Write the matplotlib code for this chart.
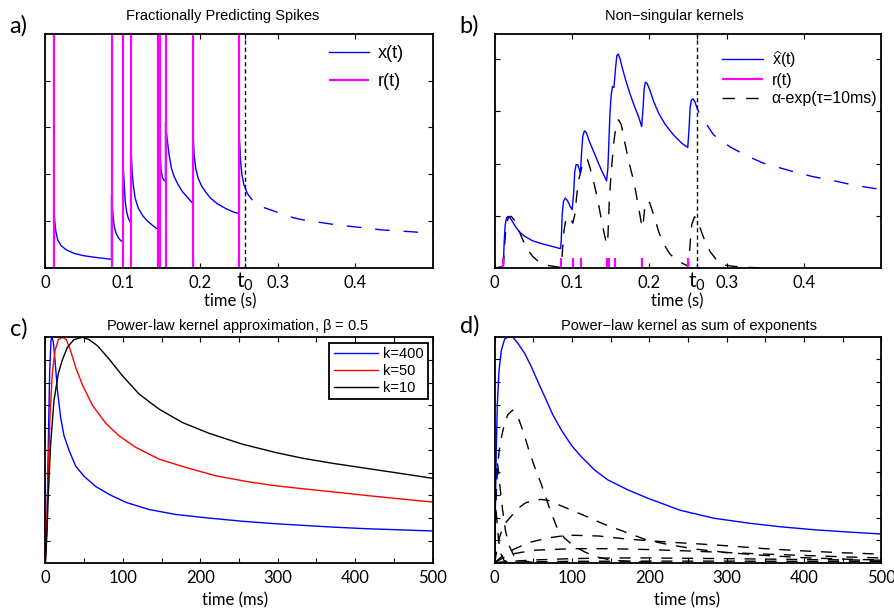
import matplotlib
matplotlib.use("Agg")
import matplotlib.pyplot as plt

plt.rcParams['font.family'] = ['Liberation Sans', 'DejaVu Sans']
plt.rcParams['mathtext.default'] = 'regular'
plt.rcParams['lines.scale_dashes'] = False

# ---------------- data ----------------
# spike train shared by panels a and b (seconds)
spikes = [0.0112, 0.0857, 0.1009, 0.1110, 0.1457, 0.1481, 0.1553, 0.1907, 0.2505]
t0_a = 0.258
t0_b = 0.262

# a) x(t), solid part up to t0
xa_t = [0.0, 0.0112, 0.0112, 0.0130, 0.0143, 0.0164, 0.0207, 0.0271, 0.0378, 0.0507, 0.0636, 0.0857,
        0.0857, 0.0875, 0.0892, 0.0914, 0.0944, 0.0978, 0.1009,
        0.1009, 0.1021, 0.1034, 0.1051, 0.1072, 0.1098, 0.1110,
        0.1110, 0.1120, 0.1137, 0.1162, 0.1201, 0.1257, 0.1321, 0.1385, 0.1441, 0.1457,
        0.1457, 0.1465, 0.1475, 0.1481,
        0.1481, 0.1495, 0.1515, 0.1535, 0.1553,
        0.1553, 0.1561, 0.1578, 0.1599, 0.1629, 0.1664, 0.1715, 0.1771, 0.1835, 0.1899, 0.1907,
        0.1907, 0.1921, 0.1942, 0.1972, 0.2015, 0.2071, 0.2135, 0.2221, 0.2328, 0.2435, 0.2505,
        0.2505, 0.2521, 0.2538, 0.2563, 0.2607, 0.2667]
xa_v = [0, 0, 1.28, 0.92, 0.75, 0.60, 0.48, 0.39, 0.31, 0.26, 0.23, 0.185,
        1.55, 1.14, 0.89, 0.75, 0.65, 0.58, 0.56,
        2.13, 1.78, 1.42, 1.21, 1.07, 0.98, 0.96,
        2.52, 2.13, 1.78, 1.49, 1.28, 1.12, 1.00, 0.91, 0.84, 0.82,
        2.42, 1.95, 1.75, 1.70,
        2.50, 2.10, 1.92, 1.87, 1.85,
        3.10, 2.95, 2.70, 2.42, 2.13, 1.95, 1.78, 1.63, 1.51, 1.39, 1.37,
        2.91, 2.42, 2.13, 1.92, 1.76, 1.62, 1.49, 1.37, 1.27, 1.19, 1.16,
        2.74, 2.27, 1.99, 1.78, 1.59, 1.46]
# a) prediction after t0
pa_t = [0.282, 0.301, 0.3206, 0.3378, 0.357, 0.376, 0.398, 0.417, 0.436, 0.458, 0.492, 0.5]
pa_v = [1.29, 1.18, 1.07, 1.01, 0.967, 0.92, 0.88, 0.845, 0.81, 0.79, 0.75, 0.74]

# b) x-hat(t)
xb_t = [0.0, 0.0111, 0.0123, 0.0136, 0.0153, 0.0171, 0.0192, 0.0222, 0.0265, 0.0320, 0.0385, 0.0492, 0.0599, 0.0728, 0.0852,
        0.0860, 0.0873, 0.0890, 0.0912, 0.0942, 0.0976, 0.1002,
        0.1019, 0.1036, 0.1053, 0.1075, 0.1096, 0.1109,
        0.1122, 0.1139, 0.1160, 0.1186, 0.1220, 0.1263, 0.1319, 0.1379, 0.1447,
        0.1464, 0.1477, 0.1490, 0.1507, 0.1524, 0.1542,
        0.1563, 0.1580, 0.1597, 0.1619, 0.1649, 0.1692, 0.1747, 0.1807, 0.1863, 0.1901,
        0.1919, 0.1932, 0.1949, 0.1970, 0.2004, 0.2056, 0.2120, 0.2206, 0.2313, 0.2420, 0.2497,
        0.2514, 0.2527, 0.2544, 0.2566, 0.2591, 0.2613, 0.2638]
xb_v = [0, 0.03, 0.51, 0.83, 0.96, 0.99, 0.97, 0.91, 0.80, 0.69, 0.61, 0.52, 0.47, 0.42, 0.37,
        0.51, 1.02, 1.28, 1.34, 1.29, 1.18, 1.12,
        1.40, 1.85, 1.98, 1.98, 1.88, 1.82,
        2.17, 2.52, 2.63, 2.59, 2.44, 2.29, 2.09, 1.88, 1.67,
        1.92, 2.43, 2.94, 3.32, 3.48, 3.46,
        3.83, 4.07, 4.10, 4.02, 3.84, 3.61, 3.35, 3.10, 2.89, 2.71,
        3.07, 3.42, 3.56, 3.54, 3.42, 3.19, 2.97, 2.75, 2.55, 2.39, 2.31,
        2.68, 3.07, 3.22, 3.24, 3.18, 3.08, 2.99]
pb_t = [0.2746, 0.2832, 0.3045, 0.3260, 0.3474, 0.3688, 0.3902, 0.4117, 0.4331, 0.4545, 0.4760, 0.4973, 0.5]
pb_v = [2.74, 2.55, 2.32, 2.15, 2.01, 1.92, 1.83, 1.75, 1.69, 1.62, 1.56, 1.51, 1.50]
# b) alpha-exp filtered spikes
ab_t = [0.0111, 0.0128, 0.0149, 0.0179, 0.0213, 0.0248, 0.0299, 0.0363, 0.0428, 0.0492, 0.0578, 0.0685, 0.0813, 0.0856,
        0.0873, 0.0895, 0.0920, 0.0955, 0.0985, 0.1010,
        0.1036, 0.1062, 0.1087, 0.1113, 0.1139, 0.1169, 0.1199, 0.1233, 0.1284, 0.1336, 0.1392, 0.1434, 0.1460,
        0.1482, 0.1507, 0.1542, 0.1572, 0.1602, 0.1636, 0.1679, 0.1734, 0.1799, 0.1863, 0.1906,
        0.1919, 0.1940, 0.1970, 0.2004, 0.2056, 0.2120, 0.2184, 0.2270, 0.2377, 0.2506,
        0.2527, 0.2548, 0.2583, 0.2613, 0.2656, 0.2720, 0.2784, 0.2870, 0.2955, 0.31, 0.33, 0.35]
ab_v = [0, 0.45, 0.83, 0.98, 0.99, 0.93, 0.77, 0.54, 0.35, 0.22, 0.11, 0.05, 0.02, 0.01,
        0.26, 0.70, 0.93, 0.99, 0.95, 0.86,
        1.02, 1.40, 1.69, 1.85, 2.01, 2.09, 2.08, 1.92, 1.63, 1.28, 0.83, 0.54, 0.45,
        1.28, 1.85, 2.43, 2.75, 2.84, 2.75, 2.43, 2.04, 1.66, 1.15, 0.77,
        0.83, 1.15, 1.29, 1.25, 1.02, 0.70, 0.46, 0.26, 0.13, 0.03,
        0.45, 0.83, 0.98, 0.96, 0.77, 0.51, 0.32, 0.15, 0.06, 0.03, 0.01, 0.0]

# c) normalised kernels (ms)
k400_t = [0, 2.15, 3.9, 5.6, 7.3, 8.6, 10.3, 12.5, 15.5, 19.8, 24.1, 30.6, 39.2, 50.0, 65.0, 82.3, 103.8,
          133.9, 168.4, 211.5, 254.5, 297.6, 332, 371.6, 414.7, 457.8, 500]
k400_v = [0, 0.19, 0.53, 0.84, 0.985, 1.0, 0.98, 0.90, 0.77, 0.645, 0.565, 0.50, 0.43, 0.385, 0.34, 0.305, 0.27,
          0.238, 0.216, 0.200, 0.186, 0.175, 0.168, 0.160, 0.153, 0.148, 0.143]
k50_t = [0, 2.15, 3.9, 6.0, 9.0, 12.5, 16.8, 22.0, 27.1, 32.7, 39.2, 47.8, 60.7, 77.9, 95.2, 116.7,
         146.9, 181.3, 220.1, 263.1, 297.6, 332, 371.6, 414.7, 457.8, 500]
k50_v = [0, 0.20, 0.42, 0.645, 0.84, 0.94, 0.99, 1.0, 0.99, 0.94, 0.867, 0.79, 0.70, 0.62, 0.564, 0.513,
         0.461, 0.424, 0.387, 0.360, 0.343, 0.330, 0.316, 0.300, 0.285, 0.271]
k10_t = [0, 2.15, 3.9, 6.9, 11.2, 16.8, 22.0, 28.4, 37.0, 47.8, 56.4, 67.2, 82.3, 99.5, 121.0, 146.9,
         177.0, 211.5, 254.5, 297.6, 332, 371.6, 414.7, 457.8, 500]
k10_v = [0, 0.13, 0.306, 0.527, 0.72, 0.84, 0.90, 0.955, 0.99, 1.0, 0.99, 0.963, 0.904, 0.83, 0.749, 0.682,
         0.623, 0.575, 0.527, 0.49, 0.465, 0.442, 0.42, 0.398, 0.376]

# d) kernel (blue) and its exponential components (dashed)
dk_t = [0, 0.8, 2.1, 3.4, 5.6, 8.6, 12.9, 18.1, 23.7, 30.1, 38.8, 47.4, 56.0, 64.6, 75.4, 86.2, 99.1, 112.0,
        129.3, 146.5, 172.4, 198.2, 240, 283.2, 326.3, 369.4, 412.5, 455.6, 500]
dk_v = [0, 0.22, 0.51, 0.70, 0.85, 0.94, 0.99, 1.0, 0.997, 0.97, 0.926, 0.867, 0.80, 0.735, 0.653, 0.587, 0.52, 0.469,
        0.41, 0.366, 0.322, 0.285, 0.232, 0.197, 0.176, 0.159, 0.146, 0.136, 0.127]
comp_t = [
    [0, 0.7, 1.5, 3, 5, 8, 12, 20],
    [0, 1, 2.5, 4, 7, 10, 14, 18, 25, 35, 50],
    [0, 1, 2, 3.5, 6, 9, 13, 17, 23, 30, 37, 44, 52, 60, 70, 80, 90, 100, 115, 130, 150, 180, 220],
    [0, 3, 6, 10, 15, 20, 30, 40, 50, 60, 70, 87, 115, 141, 171, 197, 225, 260, 300, 350, 400, 450, 500],
    [0, 10, 25, 45, 70, 95, 135, 170, 200, 230, 260, 300, 350, 400, 450, 500],
    [0, 10, 25, 50, 100, 150, 200, 250, 300, 350, 400, 450, 500],
    [0, 20, 50, 100, 150, 200, 300, 400, 500],
    [0, 50, 100, 200, 300, 400, 500],
]
comp_v = [
    [0, 0.2, 0.25, 0.18, 0.1, 0.04, 0.01, 0],
    [0, 0.3, 0.45, 0.43, 0.33, 0.24, 0.14, 0.08, 0.03, 0.01, 0],
    [0, 0.15, 0.3, 0.42, 0.5, 0.56, 0.62, 0.655, 0.675, 0.645, 0.58, 0.5, 0.42, 0.35, 0.25, 0.16, 0.11, 0.08,
     0.05, 0.027, 0.012, 0.004, 0],
    [0, 0.06, 0.11, 0.15, 0.18, 0.2, 0.24, 0.265, 0.275, 0.28, 0.275, 0.25, 0.21, 0.171, 0.133, 0.10, 0.08,
     0.06, 0.045, 0.032, 0.022, 0.016, 0.012],
    [0, 0.03, 0.06, 0.09, 0.11, 0.122, 0.118, 0.105, 0.097, 0.09, 0.084, 0.075, 0.062, 0.052, 0.044, 0.038],
    [0, 0.02, 0.04, 0.055, 0.062, 0.062, 0.058, 0.052, 0.045, 0.038, 0.032, 0.026, 0.021],
    [0, 0.006, 0.012, 0.018, 0.021, 0.021, 0.018, 0.014, 0.011],
    [0, 0.004, 0.006, 0.007, 0.007, 0.006, 0.006],
]

sec_ticks = [0, 0.1, 0.2, 0.3, 0.4]
sec_labels = ['0', '0.1', '0.2', '', '0.3', '0.4']
ms_ticks = [0, 50, 100, 150, 200, 250, 300, 350, 400, 450, 500]

# ---------------- figure ----------------
W, H = 894, 608
fig = plt.figure(figsize=(W / 100, H / 100), dpi=100)

def box(l, t, r, b):
    return [l / W, 1 - b / H, (r - l) / W, (b - t) / H]

axa = fig.add_axes(box(45, 33.7, 433, 268))
axb = fig.add_axes(box(494.7, 33.7, 881.3, 268))
axc = fig.add_axes(box(45.3, 337.3, 432.7, 563.3))
axd = fig.add_axes(box(494.7, 336.7, 881.3, 562.7))

humanist = ['Lato', 'DejaVu Sans']

def style(ax):
    for s in ax.spines.values():
        s.set_linewidth(1.3)
    ax.tick_params(direction='in', length=3.5, width=0.8, top=True, right=True, pad=5,
                   labelleft=False)
    for lab in ax.get_xticklabels():
        lab.set_fontfamily(humanist)
        lab.set_fontsize(12)

blue = '#0000ff'
mag = '#ff00ff'
long_dash = (0, (10.5, 10))

# a)
axa.plot(xa_t, xa_v, color=blue, lw=1.0, label='x(t)')
axa.plot(pa_t, pa_v, color=blue, lw=1.0, linestyle=long_dash)
axa.vlines(spikes, 0, 5, color=mag, lw=1.6, label='r(t)')
axa.axvline(t0_a, color='black', lw=1.0, linestyle=(0, (3, 2.2)))
axa.set_xlim(0, 0.5)
axa.set_ylim(0, 5)
axa.set_yticks([1, 2, 3, 4])
axa.set_xticks(sec_ticks[:3] + [t0_a] + sec_ticks[3:])
axa.set_xticklabels(sec_labels)
style(axa)
axa.legend(loc='upper left', bbox_to_anchor=(0.69, 1.02), frameon=False, fontsize=13,
           handlelength=2.2, handletextpad=0.5, labelspacing=0.6)

# b)
axb.plot(ab_t, ab_v, color='black', lw=1.0, linestyle=(0, (9, 8)), label=r'α-exp(τ=10ms)')
axb.plot(xb_t, xb_v, color=blue, lw=1.0, label=r'$\widehat{x}$(t)')
axb.plot(pb_t, pb_v, color=blue, lw=1.0, linestyle=long_dash)
axb.vlines(spikes, 0, 0.19, color=mag, lw=1.6, label='r(t)')
axb.axvline(t0_b, color='black', lw=1.0, linestyle=(0, (3, 2.2)))
axb.set_xlim(0, 0.5)
axb.set_ylim(0, 4.49)
axb.set_yticks([1, 2, 3, 4])
axb.set_xticks(sec_ticks[:3] + [t0_b] + sec_ticks[3:])
axb.set_xticklabels(sec_labels)
style(axb)
h, l = axb.get_legend_handles_labels()
axb.legend([h[1], h[2], h[0]], [l[1], l[2], l[0]], loc='upper left', bbox_to_anchor=(0.55, 0.997),
           frameon=False, fontsize=11.5, handlelength=2.57, handletextpad=0.55, labelspacing=0.2)

# t0 tick labels, drawn larger than the other tick labels
for ax, t0 in ((axa, t0_a), (axb, t0_b)):
    ax.text(t0, -0.01, r'$t_0$', transform=ax.get_xaxis_transform(), ha='center', va='top',
            fontsize=15, family=humanist)

# c)
axc.plot(k400_t, k400_v, color=blue, lw=1.0, label='k=400')
axc.plot(k50_t, k50_v, color='red', lw=1.0, label='k=50')
axc.plot(k10_t, k10_v, color='black', lw=1.0, label='k=10')
axc.set_xlim(0, 500)
axc.set_ylim(0, 1)
axc.set_yticks([0.1 * i for i in range(1, 10)])
axc.set_xticks(ms_ticks)
axc.set_xticklabels([str(v) if v % 100 == 0 else '' for v in ms_ticks])
style(axc)
leg = axc.legend(loc='upper right', bbox_to_anchor=(0.989, 0.976), fontsize=10.5, fancybox=False,
                 edgecolor='black', framealpha=1, handlelength=3.0, handletextpad=0.4,
                 labelspacing=0.2, borderpad=0.3, borderaxespad=0)
leg.get_frame().set_linewidth(1.3)

# d)
for ct, cv in zip(comp_t, comp_v):
    axd.plot(ct, cv, color='black', lw=1.0, linestyle=(0, (8, 7)))
axd.plot(dk_t, dk_v, color=blue, lw=1.0)
axd.set_xlim(0, 500)
axd.set_ylim(0, 1)
axd.set_yticks([0.1 * i for i in range(1, 10)])
axd.set_xticks(ms_ticks)
axd.set_xticklabels([str(v) if v % 100 == 0 else '' for v in ms_ticks])
style(axd)

# titles, labels, panel letters
tfont = dict(fontsize=10.5, ha='center', va='center')
axa.text(0.459, 1.0755, 'Fractionally Predicting Spikes', transform=axa.transAxes, **tfont)
axb.text(0.465, 1.0755, 'Non\u2212singular kernels', transform=axb.transAxes, **tfont)
axc.text(0.496, 1.0487, r'Power-law kernel approximation, $\beta$ = 0.5', transform=axc.transAxes, **tfont)
axd.text(0.502, 1.0460, 'Power\u2212law kernel as sum of exponents', transform=axd.transAxes, **tfont)

lfont = dict(family=humanist, size=12, ha='center', va='center')
axa.text(0.477, -0.142, 'time (s)', transform=axa.transAxes, **lfont)
axb.text(0.472, -0.142, 'time (s)', transform=axb.transAxes, **lfont)
axc.text(0.490, -0.162, 'time (ms)', transform=axc.transAxes, **lfont)
axd.text(0.497, -0.165, 'time (ms)', transform=axd.transAxes, **lfont)

pfont = dict(family=humanist, size=17, ha='center', va='center')
fig.text(18.5 / W, 1 - 25.5 / H, 'a)', **pfont)
fig.text(469.5 / W, 1 - 25.5 / H, 'b)', **pfont)
fig.text(18.5 / W, 1 - 329 / H, 'c)', **pfont)
fig.text(470 / W, 1 - 326 / H, 'd)', **pfont)

fig.savefig('out.png', dpi=100)
